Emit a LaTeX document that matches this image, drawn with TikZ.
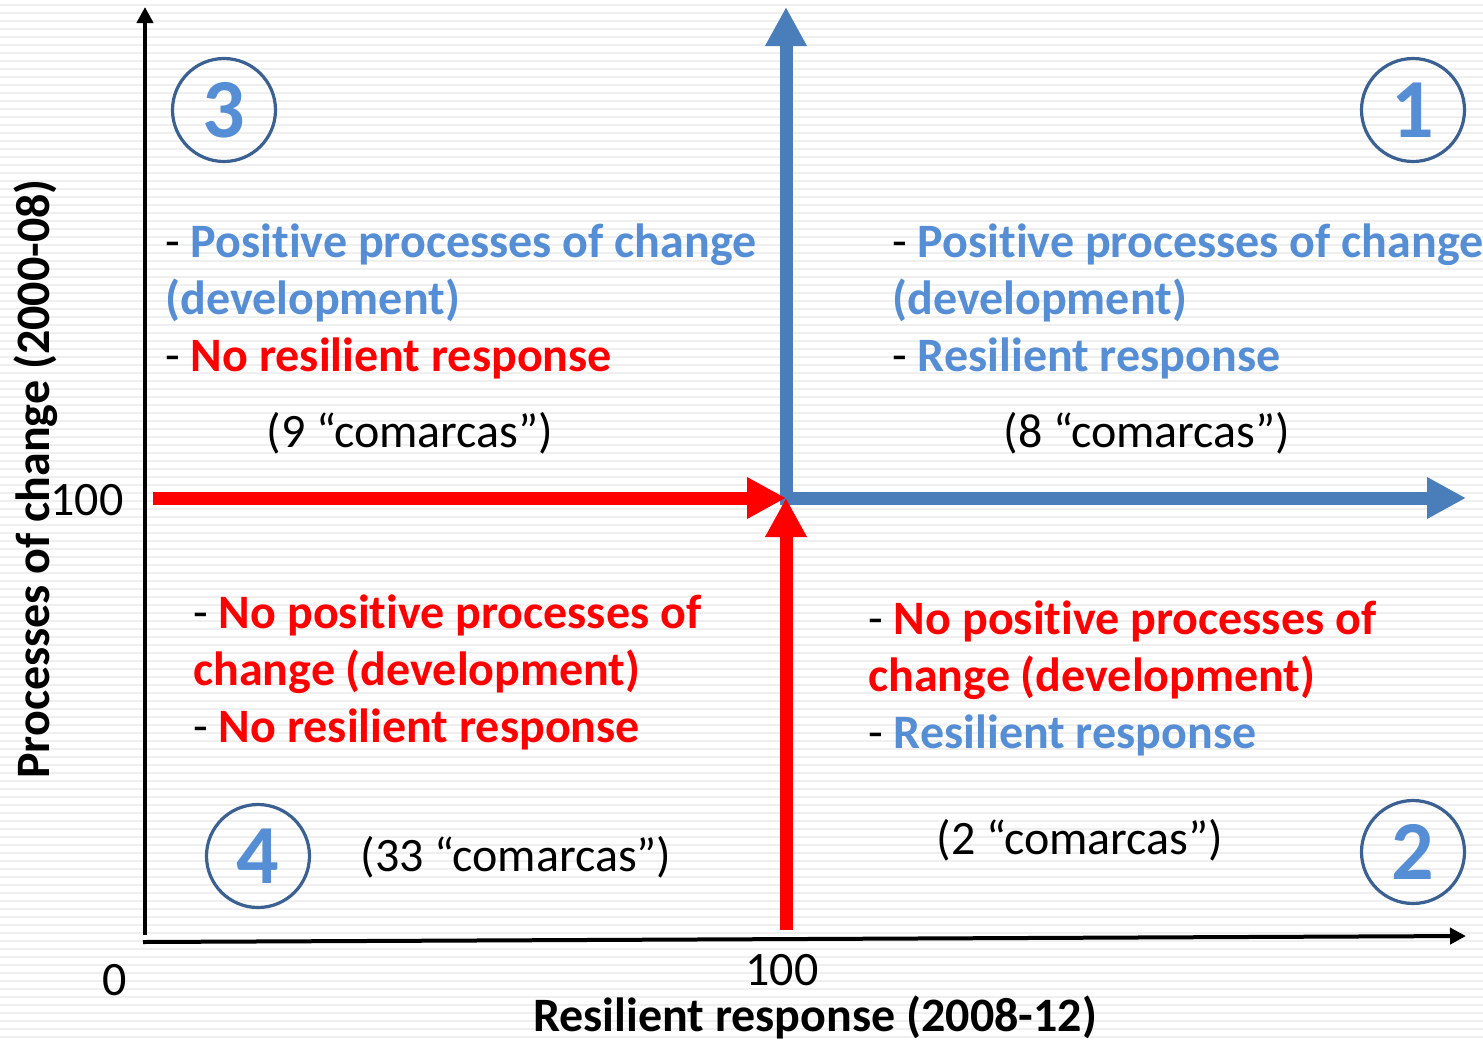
\documentclass[tikz,border=0pt]{standalone}
\usepackage{fontspec}
\setmainfont{Carlito}[Ligatures=NoCommon]
\usetikzlibrary{arrows.meta}

\definecolor{arrowblue}{HTML}{4A7EBB}
\definecolor{textblue}{HTML}{558ED5}
\definecolor{ringblue}{HTML}{3A6192}
\definecolor{stripe}{HTML}{EFEFEF}

% coloured, bold items of the quadrant lists
\newcommand\good[1]{{\bfseries\color{textblue}#1}}
\newcommand\bad[1]{{\bfseries\color{red}#1}}

\tikzset{
  quadtext/.style={anchor=base west, inner sep=0pt, align=left,
    font=\fontsize{24}{28.5}\selectfont},
  counts/.style={anchor=base, inner sep=0pt, font=\fontsize{24}{28.5}\selectfont},
  axislabel/.style={anchor=base, inner sep=0pt, font=\fontsize{24}{28.5}\selectfont\bfseries},
  ticklabel/.style={anchor=base, inner sep=0pt, font=\fontsize{24}{28.5}\selectfont},
  ring/.style={circle, draw=ringblue, line width=1.6pt, minimum size=51.5pt,
    inner sep=0pt, text=textblue, font=\fontsize{42}{42}\selectfont\bfseries},
  axis/.style={line width=2pt, -{Triangle[length=8pt,width=8pt]}},
  fat/.style={line width=6.5pt, miter limit=4},
  bluearrow/.style={fat, arrowblue,
    {Triangle[length=19.5pt,width=19.5pt]}-{Triangle[length=19.5pt,width=19.5pt]}},
  redarrow/.style={fat, red, -{Triangle[length=19.5pt,width=19.5pt]}},
}

\begin{document}
\begin{tikzpicture}[x=0.5pt, y=-0.5pt]
  % page and striped background
  \useasboundingbox (0,0) rectangle (1483,1039);
  \fill[white] (0,0) rectangle (1483,1039);
  \foreach \k in {0,...,129}
    \fill[stripe] (0,{3.7+8*\k}) rectangle (1483,{5.7+8*\k});

  % axes
  \coordinate (ybot) at (145,935);
  \coordinate (ytop) at (145,7);
  \coordinate (xleft) at (143,942);
  \coordinate (xright) at (1466,936);
  \draw[axis] (ybot) -- (ytop);
  \draw[axis] (xleft) -- (xright);

  % the two thresholds meet at (100,100)
  \coordinate (centre) at (786,498);
  \coordinate (btop) at (786,7);
  \coordinate (bright) at (1466,498);
  \coordinate (rleft) at (153,498);
  \coordinate (rbot) at (786,930);
  \draw[bluearrow] (btop) -- (centre) -- (bright);
  \draw[redarrow] (rleft) -- (centre);
  \draw[redarrow] (rbot) -- (centre);

  % quadrant numbers
  \node[ring] (n3) at (224,110) {3};
  \node[ring] (n1) at (1413,110) {1};
  \node[ring] (n4) at (258,856) {4};
  \node[ring] (n2) at (1413,852) {2};

  % quadrant descriptions (anchored on their last line)
  \node[quadtext] (q3) at (165,371)
    {- \good{Positive processes of change}\\\good{(development)}\\- \bad{No resilient response}};
  \node[quadtext] (q1) at (892,371)
    {- \good{Positive processes of change}\\\good{(development)}\\- \good{Resilient response}};
  \node[quadtext] (q4) at (193,742)
    {- \bad{No positive processes of}\\\bad{change (development)}\\- \bad{No resilient response}};
  \node[quadtext] (q2) at (868,748)
    {- \bad{No positive processes of}\\\bad{change (development)}\\- \good{Resilient response}};

  \node[counts] (c3) at (410,447) {(9 “comarcas”)};
  \node[counts] (c1) at (1147,447) {(8 “comarcas”)};
  \node[counts] (c4) at (516,871) {(33 “comarcas”)};
  \node[counts] (c2) at (1080,854) {(2 “comarcas”)};

  % tick values and axis titles
  \node[ticklabel] (zero) at (115,995) {0};
  \node[ticklabel] (xhundred) at (782,985) {100};
  \node[ticklabel] (yhundred) at (87,515) {100};
  \node[axislabel] (xlabel) at (815,1031) {Resilient response (2008-12)};
  \node[axislabel, rotate=90] (ylabel) at (49,479) {Processes of change (2000-08)};
\end{tikzpicture}
\end{document}
